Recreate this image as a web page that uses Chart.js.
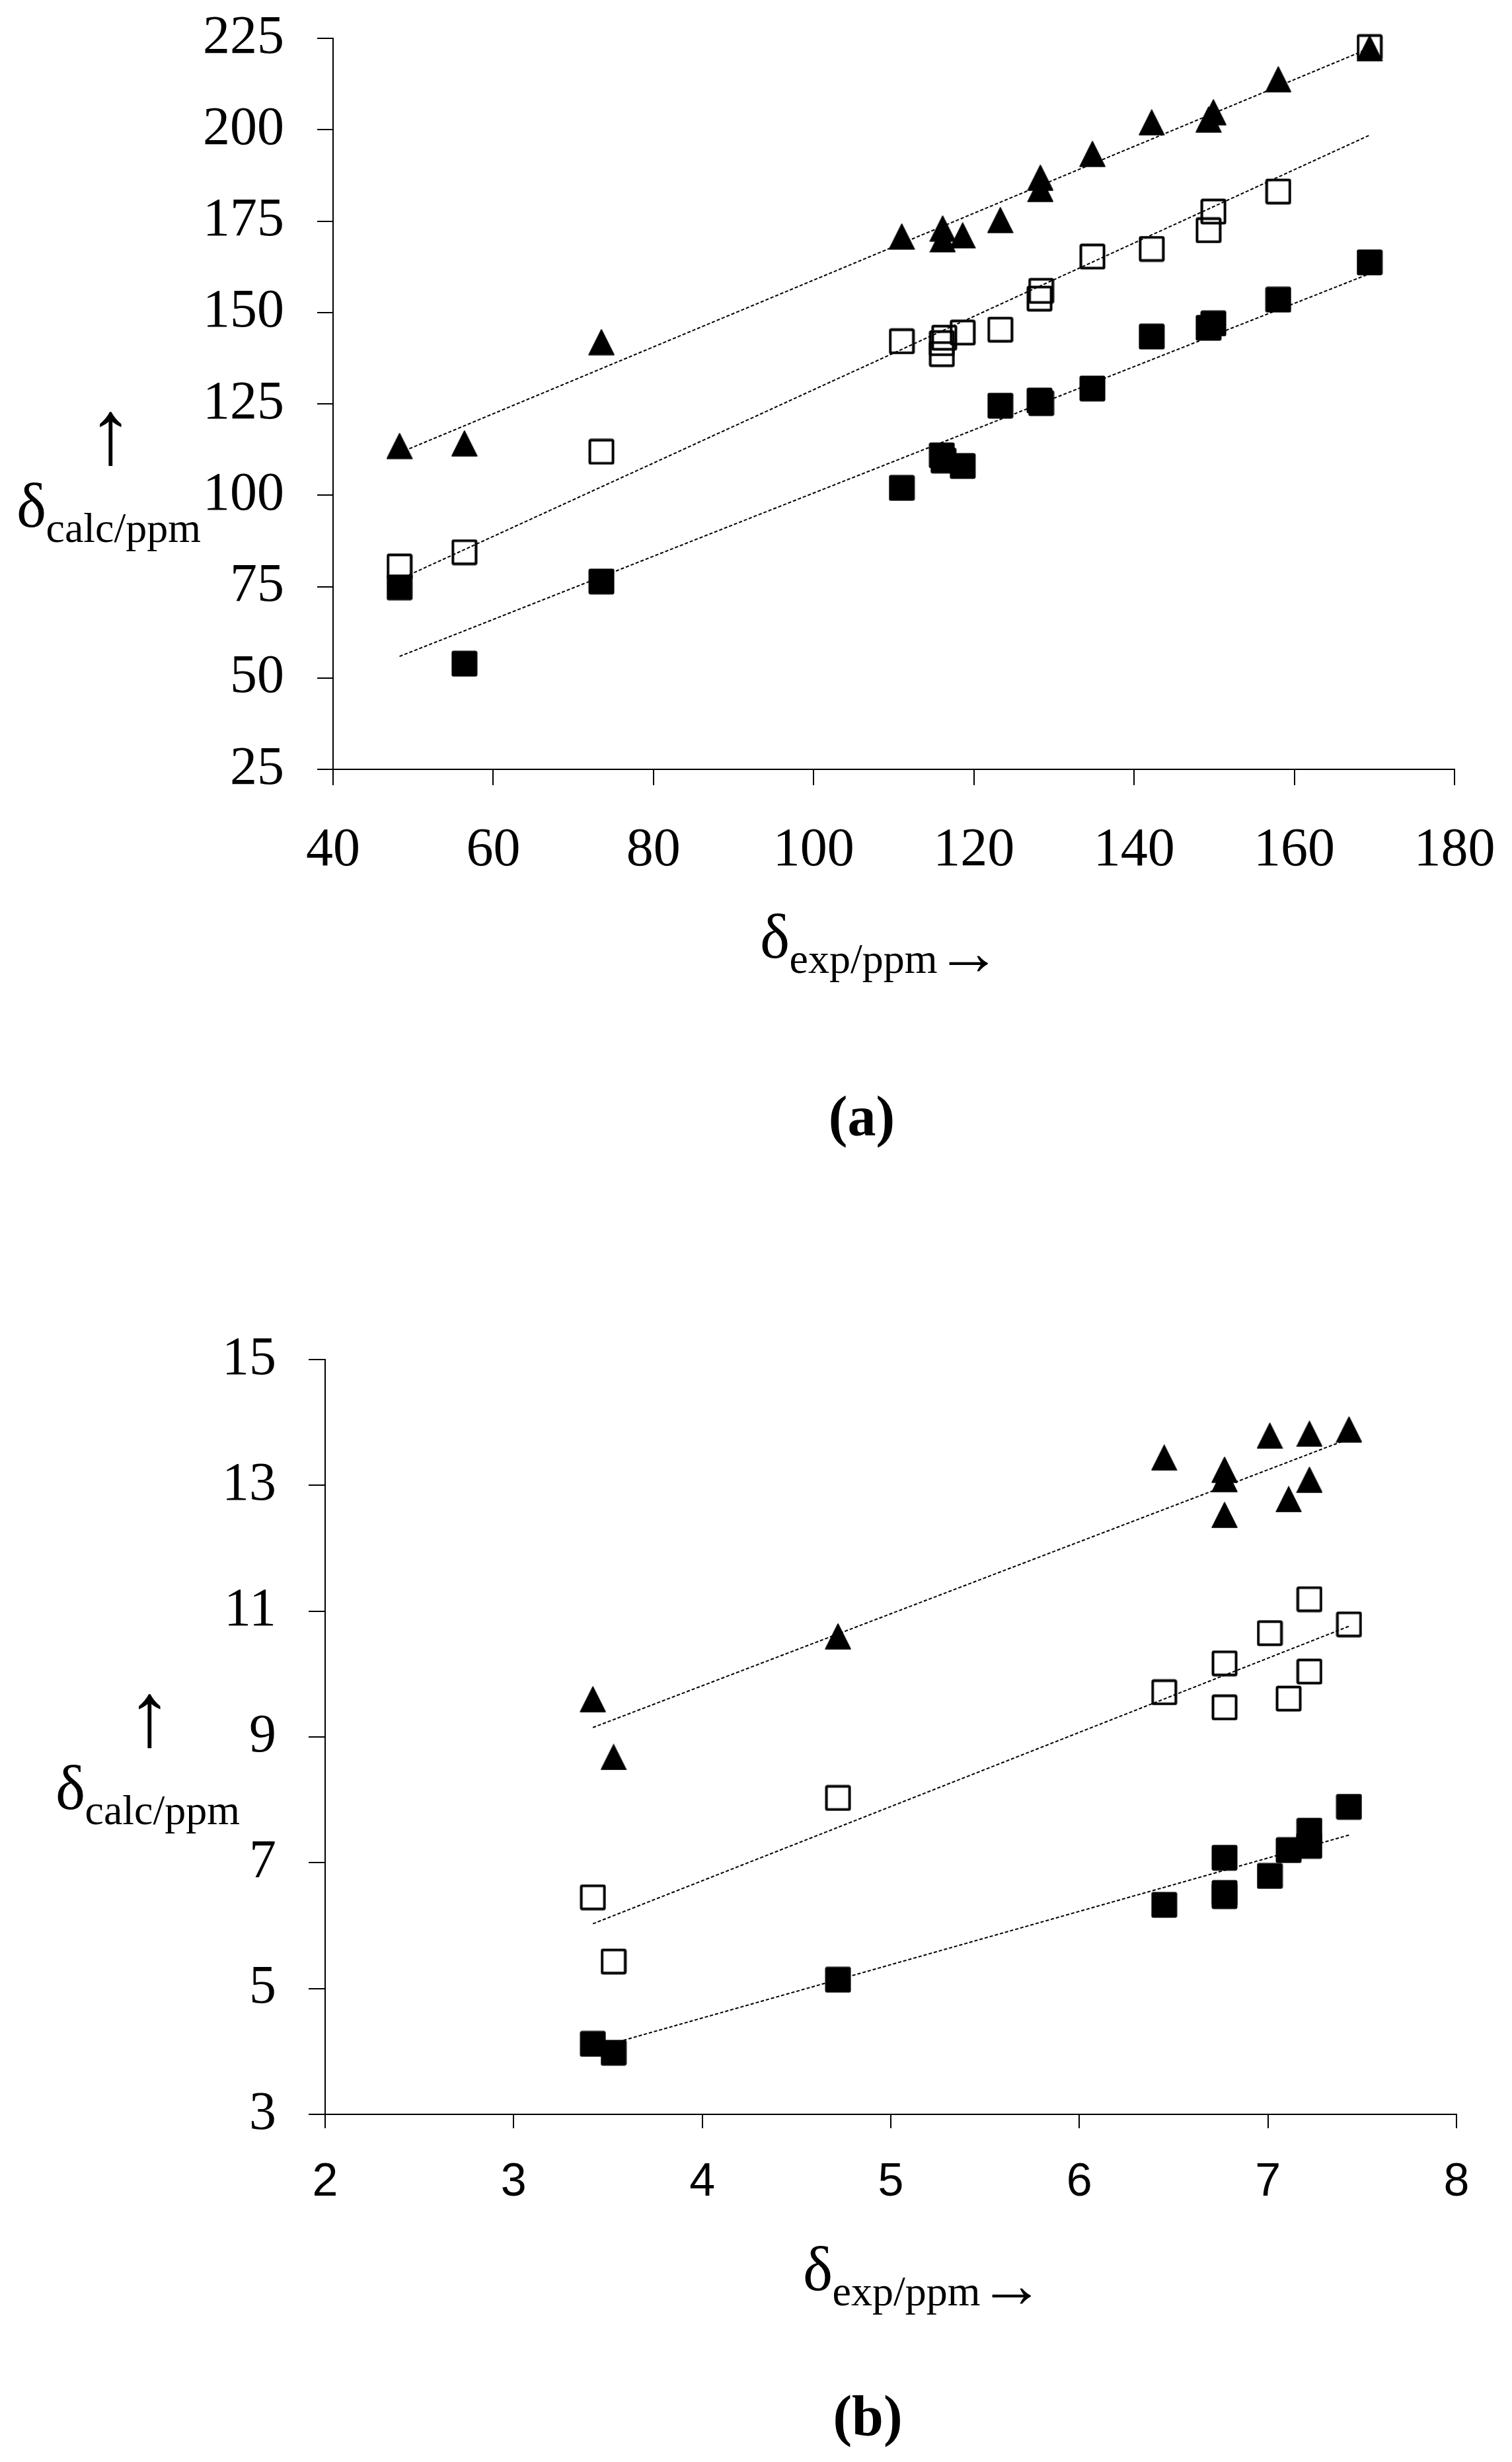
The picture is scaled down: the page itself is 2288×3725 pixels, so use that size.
<!DOCTYPE html>
<html>
<head>
<meta charset="utf-8">
<script src="https://cdn.jsdelivr.net/npm/chart.js@4.4.1/dist/chart.umd.min.js"></script>
<style>
    html, body { margin: 0; padding: 0; background: #fff; }
    body { width: 2288px; height: 3725px; position: relative; overflow: hidden; }
    canvas { position: absolute; left: 0; }
    #chartA { top: 0; }
    #chartB { top: 1850px; }
</style>
</head>
<body>
<canvas id="chartA" width="2288" height="1850"></canvas>
<canvas id="chartB" width="2288" height="1875"></canvas>
<script>
/* -------- (a) 13C shifts -------- */
const aXTicks = [40, 60, 80, 100, 120, 140, 160, 180];
const aYTicks = [25, 50, 75, 100, 125, 150, 175, 200, 225];

const aTriX = [48.3, 56.4, 73.5, 111.0, 116.1, 116.1, 118.6, 123.3, 128.3, 128.3, 134.8, 142.2, 149.3, 149.9, 158.0, 169.4];
const aTriY = [113.5, 114.2, 141.9, 170.8, 173.0, 170.0, 171.1, 175.3, 186.9, 183.8, 193.4, 202.0, 202.8, 204.8, 213.8, 222.3];

const aOpenX = [48.3, 56.4, 73.5, 111.0, 116.3, 116.0, 116.0, 118.6, 123.3, 128.4, 128.2, 134.8, 142.2, 149.9, 149.3, 158.0, 169.4];
const aOpenY = [80.5, 84.4, 111.9, 142.1, 143.1, 141.6, 138.6, 144.5, 145.3, 155.9, 153.8, 165.3, 167.4, 177.6, 172.5, 183.1, 222.6];

const aFillX = [48.3, 56.4, 73.5, 111.0, 116.0, 116.2, 118.6, 123.3, 128.2, 128.4, 134.8, 142.2, 149.3, 149.9, 158.0, 169.4];
const aFillY = [74.8, 53.9, 76.4, 102.0, 110.9, 109.5, 108.0, 124.5, 125.9, 125.2, 129.2, 143.4, 145.8, 147.0, 153.5, 163.7];

// trend line end points
const aFitX = [48.3, 169.4];
const aTriFit = [111.6, 222.3];
const aOpenFit = [77.0, 198.5];
const aFillFit = [55.9, 160.6];

/* -------- (b) 1H shifts -------- */
const bXTicks = [2, 3, 4, 5, 6, 7, 8];
const bYTicks = [3, 5, 7, 9, 11, 13, 15];

const bTriX = [3.42, 3.53, 4.72, 6.45, 6.77, 6.77, 6.77, 7.01, 7.11, 7.22, 7.22, 7.43];
const bTriY = [9.60, 8.68, 10.60, 13.44, 13.25, 13.10, 12.53, 13.79, 12.78, 13.82, 13.09, 13.89];

const bOpenX = [3.42, 3.53, 4.72, 6.45, 6.77, 6.77, 7.01, 7.11, 7.22, 7.22, 7.43];
const bOpenY = [6.45, 5.43, 8.03, 9.71, 10.17, 9.47, 10.65, 9.61, 11.19, 10.04, 10.79];

const bFillX = [3.42, 3.53, 4.72, 6.45, 6.77, 6.77, 6.77, 7.01, 7.11, 7.22, 7.22, 7.43];
const bFillY = [4.12, 3.98, 5.14, 6.33, 7.08, 6.52, 6.47, 6.79, 7.20, 7.51, 7.27, 7.89];

const bFitX = [3.42, 7.43];
const bTriFit = [9.15, 13.74];
const bOpenFit = [6.03, 10.76];
const bFillFit = [4.04, 7.44];

/* -------- Fonts -------- */
const SERIF = "'Liberation Serif', 'Times New Roman', serif";
const SANS = "'Liberation Sans', Arial, sans-serif";

/* -------- Marker images -------- */
function markerCanvas(kind) {
    const c = document.createElement('canvas');
    c.width = 40;
    c.height = 40;
    const g = c.getContext('2d');
    g.fillStyle = '#000';
    g.strokeStyle = '#000';
    g.lineJoin = 'round';
    if (kind === 'triangle') {
        g.beginPath();
        g.moveTo(20, 1);
        g.lineTo(39, 39);
        g.lineTo(1, 39);
        g.closePath();
        g.fill();
        g.lineWidth = 1.5;
        g.stroke();
    } else if (kind === 'open') {
        g.lineWidth = 4;
        g.beginPath();
        g.roundRect(2.5, 2.5, 35, 35, 1.5);
        g.stroke();
    } else {
        g.beginPath();
        g.roundRect(0.5, 0.5, 39, 39, 3);
        g.fill();
    }
    return c;
}

const TRI = markerCanvas('triangle');
const OPEN = markerCanvas('open');
const FILL = markerCanvas('filled');

function pts(xs, ys) {
    return xs.map((x, i) => ({ x: x, y: ys[i] }));
}

function markerSet(label, xs, ys, style, order) {
    return {
        type: 'scatter',
        label: label,
        data: pts(xs, ys),
        pointStyle: style,
        pointRadius: 20,
        pointHoverRadius: 20,
        clip: false,
        order: order
    };
}

function fitSet(label, xs, ys) {
    return {
        type: 'line',
        label: label,
        data: pts(xs, ys),
        borderColor: '#000',
        borderWidth: 2,
        borderDash: [5, 3],
        pointRadius: 0,
        fill: false,
        tension: 0,
        clip: false,
        order: 10
    };
}

/* -------- Axis titles and captions -------- */
function fitHeight(ctx, text, targetH) {
    ctx.font = `100px ${SERIF}`;
    const m = ctx.measureText(text);
    return 100 * targetH / (m.actualBoundingBoxAscent + m.actualBoundingBoxDescent);
}

function fitWidth(ctx, text, targetW) {
    ctx.font = `100px ${SERIF}`;
    const m = ctx.measureText(text);
    return 100 * targetW / (m.actualBoundingBoxLeft + m.actualBoundingBoxRight);
}

function drawDelta(ctx, sub, left, baseline, arrow) {
    ctx.textAlign = 'left';
    ctx.textBaseline = 'alphabetic';
    ctx.font = `${fitHeight(ctx, 'δ', 68)}px ${SERIF}`;
    const m = ctx.measureText('δ');
    ctx.fillText('δ', left + m.actualBoundingBoxLeft, baseline);
    const subX = left + m.actualBoundingBoxLeft + m.actualBoundingBoxRight + 2.5;
    const subBase = baseline + 23;
    ctx.font = `64px ${SERIF}`;
    ctx.fillText(sub, subX, subBase);
    if (arrow) {
        const arrowX = subX + ctx.measureText(sub).width + 18;
        ctx.font = `${fitWidth(ctx, '→', 59)}px ${SERIF}`;
        const a = ctx.measureText('→');
        const mid = subBase - 14;
        ctx.fillText('→', arrowX + a.actualBoundingBoxLeft,
            mid + (a.actualBoundingBoxAscent - a.actualBoundingBoxDescent) / 2);
    }
}

function drawArrowUp(ctx, cx, top) {
    ctx.font = `${fitHeight(ctx, '↑', 83)}px ${SERIF}`;
    ctx.textAlign = 'center';
    ctx.textBaseline = 'alphabetic';
    const m = ctx.measureText('↑');
    ctx.fillText('↑', cx, top + m.actualBoundingBoxAscent);
}

function textPlugin(spec) {
    return {
        id: 'axisText',
        afterDraw(chart) {
            const ctx = chart.ctx;
            ctx.save();
            ctx.fillStyle = '#000';
            drawArrowUp(ctx, spec.upX, spec.upTop);
            drawDelta(ctx, 'calc/ppm', spec.yLeft, spec.yBase, false);
            drawDelta(ctx, 'exp/ppm', spec.xLeft, spec.xBase, true);
            ctx.font = `bold 86px ${SERIF}`;
            ctx.textAlign = 'center';
            ctx.textBaseline = 'alphabetic';
            ctx.fillText(spec.caption, spec.capX, spec.capBase);
            ctx.restore();
        }
    };
}

/* -------- Chart builder -------- */
function axis(ticksArr, font, tickLen, pad, fitFn) {
    return {
        type: 'linear',
        min: ticksArr[0],
        max: ticksArr[ticksArr.length - 1],
        afterBuildTicks: s => { s.ticks = ticksArr.map(v => ({ value: v })); },
        afterFit: s => {
            fitFn(s);
            // let layout.padding alone decide where the plot area sits
            s.paddingTop = 0;
            s.paddingBottom = 0;
            s.paddingLeft = 0;
            s.paddingRight = 0;
        },
        ticks: {
            font: font,
            color: '#000',
            padding: pad,
            autoSkip: false,
            maxRotation: 0
        },
        grid: {
            display: true,
            drawOnChartArea: false,
            drawTicks: true,
            tickLength: tickLen,
            color: '#000',
            lineWidth: 2
        },
        border: { display: true, color: '#000', width: 2 }
    };
}

function makeChart(id, cfg) {
    const canvas = document.getElementById(id);
    return new Chart(canvas.getContext('2d'), {
        type: 'scatter',
        data: { datasets: cfg.datasets },
        options: {
            responsive: false,
            animation: false,
            devicePixelRatio: 1,
            events: [],
            layout: { padding: cfg.padding },
            plugins: {
                legend: { display: false },
                tooltip: { enabled: false }
            },
            scales: {
                x: axis(cfg.xTicks, cfg.xFont, cfg.xTickLen, cfg.xPad, s => { s.height = cfg.xHeight; }),
                y: axis(cfg.yTicks, cfg.yFont, cfg.yTickLen, cfg.yPad, s => { s.width = cfg.yWidth; })
            }
        },
        plugins: [textPlugin(cfg.text)]
    });
}

/* =====================================================
   Chart (a)
   ===================================================== */
makeChart('chartA', {
    datasets: [
        markerSet('Triangles', aTriX, aTriY, TRI, 1),
        markerSet('Filled squares', aFillX, aFillY, FILL, 2),
        markerSet('Open squares', aOpenX, aOpenY, OPEN, 3),
        fitSet('Triangles fit', aFitX, aTriFit),
        fitSet('Open fit', aFitX, aOpenFit),
        fitSet('Filled fit', aFitX, aFillFit)
    ],
    xTicks: aXTicks,
    yTicks: aYTicks,
    xFont: { family: SERIF, size: 82 },
    yFont: { family: SERIF, size: 82 },
    xTickLen: 24,
    yTickLen: 24,
    xPad: 50,
    yPad: 50,
    padding: { left: 0, top: 58, right: 87, bottom: 0 },
    xHeight: 686,
    yWidth: 504,
    text: {
        upX: 167, upTop: 623,
        yLeft: 28, yBase: 797,
        xLeft: 1153, xBase: 1449,
        caption: '(a)', capX: 1304, capBase: 1718
    }
});

/* =====================================================
   Chart (b)
   ===================================================== */
makeChart('chartB', {
    datasets: [
        markerSet('Triangles', bTriX, bTriY, TRI, 1),
        markerSet('Filled squares', bFillX, bFillY, FILL, 2),
        markerSet('Open squares', bOpenX, bOpenY, OPEN, 3),
        fitSet('Triangles fit', bFitX, bTriFit),
        fitSet('Open fit', bFitX, bOpenFit),
        fitSet('Filled fit', bFitX, bFillFit)
    ],
    xTicks: bXTicks,
    yTicks: bYTicks,
    xFont: { family: SANS, size: 70 },
    yFont: { family: SERIF, size: 82 },
    xTickLen: 21,
    yTickLen: 25,
    xPad: 41,
    yPad: 49,
    padding: { left: 0, top: 207, right: 84, bottom: 0 },
    xHeight: 526,
    yWidth: 492,
    text: {
        upX: 226, upTop: 713,
        yLeft: 87, yBase: 887,
        xLeft: 1218, xBase: 1615,
        caption: '(b)', capX: 1313, capBase: 1834
    }
});
</script>
</body>
</html>
